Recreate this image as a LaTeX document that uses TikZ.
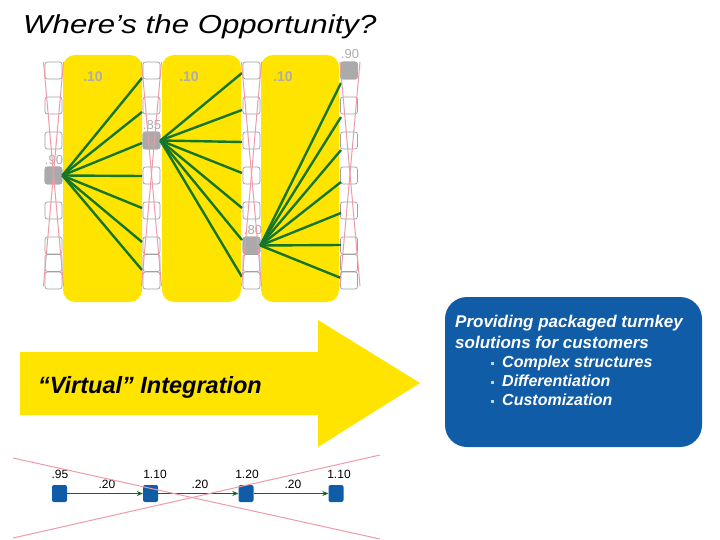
\documentclass[tikz,border=0pt]{standalone}
\usepackage{fontspec}
\setmainfont{Liberation Sans}
\usetikzlibrary{arrows.meta}
\definecolor{yel}{RGB}{255,228,0}
\definecolor{bluebox}{RGB}{16,92,166}
\definecolor{grn}{RGB}{22,118,40}
\definecolor{pinkl}{RGB}{236,155,168}
\definecolor{gboxc}{RGB}{170,170,170}
\definecolor{glab}{RGB}{172,172,172}
\definecolor{sboxd}{RGB}{160,160,160}
\definecolor{bulc}{RGB}{200,210,225}
\begin{document}
\begin{tikzpicture}[x=1pt,y=-1pt,
  sbox/.style={draw=sboxd,fill=white,rounded corners=2.5pt,minimum width=17pt,minimum height=17pt,inner sep=0pt,line width=0.7pt},
  gbox/.style={sbox,fill=gboxc,draw=gboxc},
  ycol/.style={fill=yel,rounded corners=12pt},
  glabel/.style={text=glab,font=\fontsize{14}{14}\selectfont\bfseries,inner sep=0pt},
  glabeln/.style={text=glab,font=\fontsize{13}{13}\selectfont,inner sep=0pt},
  gline/.style={draw=grn,line width=2.4pt},
  pline/.style={draw=pinkl,line width=1pt},
  bsq/.style={fill=bluebox,rounded corners=2pt,minimum width=15pt,minimum height=17pt,inner sep=0pt},
  blab/.style={font=\fontsize{12}{12}\selectfont,inner sep=0pt},
  barrow/.style={draw=grn!85!black,line width=0.8pt,-{Stealth[length=6pt,width=5pt]}}
]
\useasboundingbox (0,0) rectangle (720,540);
% title
\node[anchor=west,inner sep=0pt,xscale=1.2,font=\fontsize{26}{26}\selectfont\itshape] (title) at (23,27) {Where’s the Opportunity?};
% yellow columns
\fill[ycol] (63,55) rectangle (142,302);
\fill[ycol] (162,55) rectangle (241,302);
\fill[ycol] (261,55) rectangle (339,302);
\node[glabel] (l1) at (93,77) {.10};
\node[glabel] (l2) at (189,77) {.10};
\node[glabel] (l3) at (283,77) {.10};
% box columns
\foreach \c/\cx in {1/53.5,2/151.5,3/251.5,4/349} {
  \foreach \k in {0,2,4,6,8,10,11,12} {
    \node[sbox] (b\c-\k) at (\cx,{70.5+17.5*\k}) {};
  }
}
\node[gbox] (g1) at (53.5,175.5) {};
\node[gbox] (g2) at (151.5,140.5) {};
\node[gbox] (g3) at (251.5,245.5) {};
\node[gbox] (g4) at (349,70.5) {};
\node[glabeln] (v1) at (54,160) {.90};
\node[glabeln] (v2) at (152,125) {.85};
\node[glabeln] (v3) at (253,230) {.80};
\node[glabeln] (v4) at (350,54) {.90};
% green fan lines
\foreach \y [count=\i] in {78,112,143,176,208,242,270} {
  \coordinate (ea\i) at (142,\y);
  \draw[gline] (g1.east) -- (ea\i);
}
\foreach \y [count=\i] in {73,110,142,173,208,240,277} {
  \coordinate (eb\i) at (242,\y);
  \draw[gline] (g2.east) -- (eb\i);
}
\foreach \y [count=\i] in {83,117,150,182,213,245,278} {
  \coordinate (ec\i) at (341,\y);
  \draw[gline] (g3.east) -- (ec\i);
}
% pink crosses over box columns
\foreach \c/\cx in {1/53.5,2/151.5,3/251.5,4/350} {
  \coordinate (pa\c) at ({\cx-10},62);
  \coordinate (pb\c) at ({\cx+10},286);
  \coordinate (pc\c) at ({\cx+10},62);
  \coordinate (pd\c) at ({\cx-10},286);
  \draw[pline] (pa\c) -- (pb\c);
  \draw[pline] (pc\c) -- (pd\c);
}
% big arrow
\fill[yel] (20,352) -- (318,352) -- (318,320) -- (420,383) -- (318,447) -- (318,415) -- (20,415) -- cycle;
\node[inner sep=0pt,font=\fontsize{23.5}{23.5}\selectfont\bfseries\itshape] (virt) at (150,387) {“Virtual” Integration};
% blue box
\fill[bluebox,rounded corners=22pt] (445,297) rectangle (702,447);
\node[anchor=north west,inner sep=0pt,text=white,align=left,font=\fontsize{17}{21}\selectfont\bfseries\itshape] (prov) at (455,315) {Providing packaged turnkey\\solutions for customers};
\node[anchor=north west,inner sep=0pt,text=white,align=left,font=\fontsize{16}{19}\selectfont\bfseries\itshape] (bul) at (491,356) {{\color{bulc}\rule[0.2em]{3pt}{3pt}}\hspace{8pt}Complex structures\\{\color{bulc}\rule[0.2em]{3pt}{3pt}}\hspace{8pt}Differentiation\\{\color{bulc}\rule[0.2em]{3pt}{3pt}}\hspace{8pt}Customization};
% bottom chain
\node[bsq] (s1) at (59.5,493.5) {};
\node[bsq] (s2) at (150.5,493.5) {};
\node[bsq] (s3) at (246,493.5) {};
\node[bsq] (s4) at (336,493.5) {};
\node[blab] (t1) at (60,474) {.95};
\node[blab] (t2) at (155,474) {1.10};
\node[blab] (t3) at (247,474) {1.20};
\node[blab] (t4) at (339,474) {1.10};
\node[blab] (a1) at (107,484) {.20};
\node[blab] (a2) at (200,484) {.20};
\node[blab] (a3) at (293,484) {.20};
\draw[barrow] (s1) -- (s2);
\draw[barrow] (s2) -- (s3);
\draw[barrow] (s3) -- (s4);
% pink X at bottom
\coordinate (xa) at (13,458);
\coordinate (xb) at (380,539);
\coordinate (xc) at (13,538);
\coordinate (xd) at (380,455);
\draw[pline] (xa) -- (xb);
\draw[pline] (xc) -- (xd);
\end{tikzpicture}
\end{document}
